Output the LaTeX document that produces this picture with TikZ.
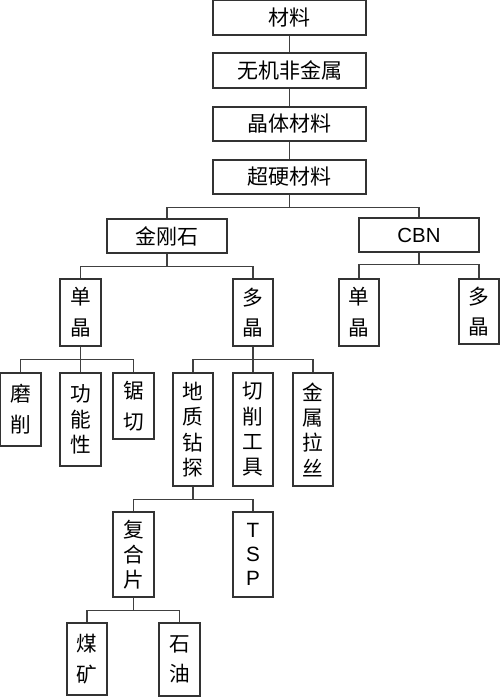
\documentclass[tikz,border=0pt]{standalone}
\usepackage{fontspec}
\setmainfont{Liberation Sans}
\newfontfamily\cjk{Noto Sans CJK SC}
\begin{document}
\begin{tikzpicture}[x=0.75pt,y=-0.75pt,
  bx/.style 2 args={draw=black!80, line width=1.1pt, inner sep=0pt, align=center,
     minimum width=#1*0.75pt, minimum height=#2*0.75pt, font=\cjk\fontsize{15.5}{19}\selectfont},
  wide/.style={font=\cjk\fontsize{15.75}{18}\selectfont},
  two/.style={font=\cjk\fontsize{15.5}{23}\selectfont},
  latin/.style={font=\fontsize{15.3}{18}\selectfont},
  conn/.style={draw=black!75, line width=0.8pt}]
\useasboundingbox (0,0) rectangle (500,697);
% top chain
\node[bx={153}{35}, wide] (m1) at (289.5,17.5) {材料};
\node[bx={153}{35}, wide] (m2) at (289.5,70.5) {无机非金属};
\node[bx={153}{34}, wide] (m3) at (289.5,124) {晶体材料};
\node[bx={153}{34}, wide] (m4) at (289.5,177) {超硬材料};
\draw[conn] (m1) -- (m2);
\draw[conn] (m2) -- (m3);
\draw[conn] (m3) -- (m4);
% level 2
\node[bx={120}{34}, wide] (d) at (167,236) {金刚石};
\node[bx={120}{34}, latin] (c) at (419,235) {CBN};
\draw[conn] (m4.south) -- ++(0,13) coordinate (j1);
\draw[conn] (j1) -| (d.north);
\draw[conn] (j1) -| (c.north);
% diamond children
\node[bx={41}{67}, two] (d1) at (80.5,312.5) {单\\晶};
\node[bx={40}{67}, two] (d2) at (253,312.5) {多\\晶};
\draw[conn] (d.south) -- ++(0,13) coordinate (j2);
\draw[conn] (j2) -| (d1.north);
\draw[conn] (j2) -| (d2.north);
% CBN children
\node[bx={40}{67}, two] (c1) at (359,312.5) {单\\晶};
\node[bx={40}{65}, two] (c2) at (479,311.5) {多\\晶};
\draw[conn] (c.south) -- ++(0,12) coordinate (j3);
\draw[conn] (j3) -| (c1.north);
\draw[conn] (j3) -| (c2.north);
% single crystal children
\node[bx={41}{73}, two] (a1) at (20.5,409.5) {磨\\削};
\node[bx={41}{93}] (a2) at (80.5,419.5) {功\\能\\性};
\node[bx={41}{66}, two] (a3) at (133.5,406) {锯\\切};
\draw[conn] (d1.south) -- ++(0,13) coordinate (j4);
\draw[conn] (j4) -| (a1.north);
\draw[conn] (j4) -- (a2.north);
\draw[conn] (j4) -| (a3.north);
% polycrystal children
\node[bx={40}{113}] (b1) at (193,429.5) {地\\质\\钻\\探};
\node[bx={40}{113}] (b2) at (253,429.5) {切\\削\\工\\具};
\node[bx={40}{113}] (b3) at (313,429.5) {金\\属\\拉\\丝};
\draw[conn] (d2.south) -- ++(0,13) coordinate (j5);
\draw[conn] (j5) -| (b1.north);
\draw[conn] (j5) -- (b2.north);
\draw[conn] (j5) -| (b3.north);
% drilling children
\node[bx={41}{85}] (e1) at (133.5,554.5) {复\\合\\片};
\node[bx={40}{85}, font=\fontsize{15.5}{18}\selectfont] (e2) at (253,554.5) {T\\S\\P};
\draw[conn] (b1.south) -- ++(0,13) coordinate (j6);
\draw[conn] (j6) -| (e1.north);
\draw[conn] (j6) -| (e2.north);
% compact children
\node[bx={40}{72}, two] (f1) at (87,659) {煤\\矿};
\node[bx={41}{73}, two] (f2) at (179.5,659.5) {石\\油};
\draw[conn] (e1.south) -- ++(0,13) coordinate (j7);
\draw[conn] (j7) -| (f1.north);
\draw[conn] (j7) -| (f2.north);
\end{tikzpicture}
\end{document}
